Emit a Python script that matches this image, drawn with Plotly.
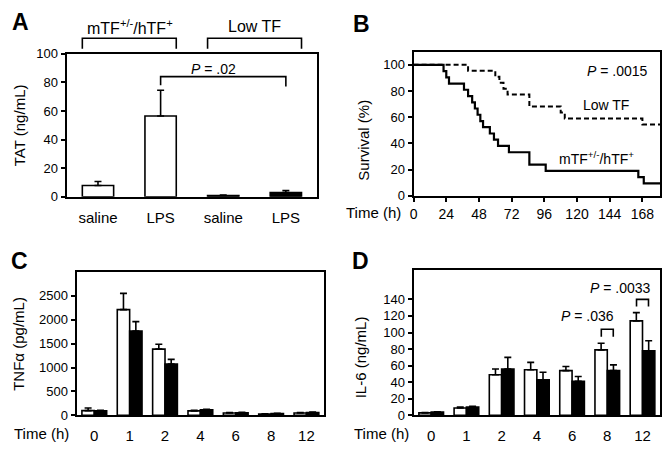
import plotly.graph_objects as go

# ---- data ----
# panel A: TAT
tat_groups = ["saline", "LPS", "saline", "LPS"]
tat_vals = [7.9, 56.5, 0.9, 3.0]
tat_err = [2.8, 18.0, 0.3, 1.4]

# panel B: survival (Kaplan-Meier steps)
surv_hTF_t = [0, 22, 24, 26, 37, 40, 43, 45, 47, 49, 51, 56, 59, 62, 70, 85, 97, 165, 169, 181]
surv_hTF = [100, 95.2, 90.5, 85.7, 81.0, 76.2, 71.4, 66.7, 61.9, 57.1, 52.4, 47.6, 42.9, 38.1, 33.3, 23.8, 19.0, 14.3, 9.5, 9.5]
surv_low_t = [0, 40, 60, 63, 66, 69, 85, 108, 111, 168, 181]
surv_low = [100, 95.5, 90.9, 86.4, 81.8, 77.3, 68.2, 63.6, 59.1, 54.5, 54.5]

# panels C and D
time_labels = ["0", "1", "2", "4", "6", "8", "12"]
tnf_hTF = [100, 2210, 1385, 95, 50, 30, 50]
tnf_hTF_err = [55, 340, 100, 12, 8, 6, 8]
tnf_low = [95, 1760, 1075, 115, 55, 40, 60]
tnf_low_err = [10, 200, 95, 12, 8, 6, 8]
il6_hTF = [3, 9, 49, 55, 54, 79, 114]
il6_hTF_err = [0.5, 1, 7, 9, 5, 8, 10]
il6_low = [4, 10, 56, 43, 41, 54, 78]
il6_low_err = [0.5, 1, 14, 9, 6, 7, 12]

FONT = "Liberation Sans, Arial, sans-serif"
WHITE, BLACK = "white", "black"
W, H = 671, 457
OFF = 8  # page body margin pushes the figure down/right


def px(x):
    return (x - OFF) / W


def py(y):
    return 1 - (y - OFF) / H


def up_err(vals):
    return dict(type="data", symmetric=False, array=vals, arrayminus=[0] * len(vals),
                color=BLACK, thickness=1.6, width=3.5)


fig = go.Figure()

# A
fig.add_trace(go.Bar(x=list(range(len(tat_vals))), y=tat_vals, width=0.5,
                     marker=dict(color=[WHITE, WHITE, BLACK, BLACK], line=dict(color=BLACK, width=1.6)),
                     error_y=up_err(tat_err), xaxis="x", yaxis="y", showlegend=False))

# B
fig.add_trace(go.Scatter(x=surv_low_t, y=surv_low, mode="lines", line_shape="hv",
                         line=dict(color=BLACK, width=2, dash="5px,3px"),
                         xaxis="x2", yaxis="y2", showlegend=False))
fig.add_trace(go.Scatter(x=surv_hTF_t, y=surv_hTF, mode="lines", line_shape="hv",
                         line=dict(color=BLACK, width=2.2),
                         xaxis="x2", yaxis="y2", showlegend=False))

# C and D
for xa, ya, w, we, b, be in [("x3", "y3", tnf_hTF, tnf_hTF_err, tnf_low, tnf_low_err),
                             ("x4", "y4", il6_hTF, il6_hTF_err, il6_low, il6_low_err)]:
    fig.add_trace(go.Bar(x=time_labels, y=w, marker=dict(color=WHITE, line=dict(color=BLACK, width=1.6)),
                         error_y=up_err(we), xaxis=xa, yaxis=ya, showlegend=False))
    fig.add_trace(go.Bar(x=time_labels, y=b, marker=dict(color=BLACK, line=dict(color=BLACK, width=1.6)),
                         error_y=up_err(be), xaxis=xa, yaxis=ya, showlegend=False))

ax = dict(showline=True, linecolor=BLACK, linewidth=2, mirror=True, showgrid=False,
          zeroline=False, ticks="outside", ticklen=4, tickwidth=1.5, tickcolor=BLACK,
          tickfont=dict(family=FONT, size=13, color=BLACK))
xcat = dict(ax, ticks="", tickfont=dict(family=FONT, size=15, color=BLACK), ticklabelstandoff=6)

fig.update_layout(
    width=W, height=H, margin=dict(l=0, r=0, t=0, b=0),
    paper_bgcolor="white", plot_bgcolor="white",
    barmode="group", bargap=0.3, bargroupgap=0,
    font=dict(family=FONT, color=BLACK),
    xaxis=dict(xcat, domain=[px(63), px(315)], anchor="y", range=[-0.5, 3.5],
               tickvals=list(range(len(tat_groups))), ticktext=tat_groups),
    yaxis=dict(ax, domain=[py(196), py(48)], anchor="x", range=[0, 100], tickvals=[0, 20, 40, 60, 80, 100]),
    xaxis2=dict(ax, domain=[px(412), px(660)], anchor="y2", range=[0, 181],
                tickvals=[0, 24, 48, 72, 96, 120, 144, 168], tickfont=dict(family=FONT, size=14, color=BLACK)),
    yaxis2=dict(ax, domain=[py(195), py(46)], anchor="x2", range=[0, 110], tickvals=[0, 20, 40, 60, 80, 100]),
    xaxis3=dict(xcat, domain=[px(73), px(322)], anchor="y3", type="category"),
    yaxis3=dict(ax, domain=[py(422), py(274)], anchor="x3", range=[0, 2990], tickvals=[0, 500, 1000, 1500, 2000, 2500]),
    xaxis4=dict(xcat, domain=[px(412), px(660)], anchor="y4", type="category"),
    yaxis4=dict(ax, domain=[py(422), py(272)], anchor="x4", range=[0, 175], tickvals=list(range(0, 141, 20))),
)

ann = []


def note(x, y, text, size=14, xref="paper", yref="paper", **kw):
    opts = dict(xanchor="center", yanchor="middle")
    opts.update(kw)
    ann.append(dict(x=x, y=y, xref=xref, yref=yref, text=text, showarrow=False,
                    font=dict(family=FONT, size=size, color=BLACK), **opts))


# panel letters
for x, y, t in [(17, 15, "A"), (360, 17, "B"), (16, 262, "C"), (359, 262, "D")]:
    note(px(x), py(y), "<b>%s</b>" % t, size=23)

# y titles
note(px(15), py(122), "TAT (ng/mL)", size=15, textangle=-90)
note(px(362), py(137), "Survival (%)", size=15, textangle=-90)
note(px(15), py(348), "TNFα (pg/mL)", size=15, textangle=-90)
note(px(358), py(362), "IL-6 (ng/mL)", size=15, textangle=-90)

# "Time (h)" labels
note(px(372), py(212), "Time (h)", size=15)
note(px(38), py(441), "Time (h)", size=15)
note(px(380), py(441), "Time (h)", size=15)

# panel A group labels and brackets
note(px(127), py(20), "mTF<sup>+/-</sup>/hTF<sup>+</sup>", size=16)
note(px(252), py(20), "Low TF", size=16)
shapes = []
for x0, x1 in [(-0.25, 1.25), (1.75, 3.25)]:
    shapes.append(dict(type="path", xref="x", yref="paper",
                       path="M %s,%s L %s,%s L %s,%s L %s,%s" % (x0, py(43), x0, py(32), x1, py(32), x1, py(43)),
                       line=dict(color=BLACK, width=1.6)))
# P bracket in A
shapes.append(dict(type="path", xref="x", yref="y", path="M 1,78 L 1,84 L 3,84 L 3,77",
                   line=dict(color=BLACK, width=1.6)))
note(1.85, 89, "<i>P</i> = .02", size=14, xref="x", yref="y")

# B texts
note(150, 95, "<i>P</i> = .0015", size=14, xref="x2", yref="y2")
note(141, 69, "Low TF", size=14, xref="x2", yref="y2")
note(134, 29, "mTF<sup>+/-</sup>/hTF<sup>+</sup>", size=14, xref="x2", yref="y2")

# D brackets
for i, y0, y1 in [(5, 95, 104), (6, 131.5, 140)]:
    shapes.append(dict(type="path", xref="x4", yref="y4",
                       path="M %s,%s L %s,%s L %s,%s L %s,%s" % (i - 0.17, y0, i - 0.17, y1, i + 0.17, y1, i + 0.17, y0),
                       line=dict(color=BLACK, width=1.6)))
note(5.25, 120.5, "<i>P</i> = .036", size=14, xref="x4", yref="y4", xanchor="right")
note(6.3, 154, "<i>P</i> = .0033", size=14, xref="x4", yref="y4", xanchor="right")

fig.update_layout(annotations=ann, shapes=shapes)
fig.write_html("out.html")
